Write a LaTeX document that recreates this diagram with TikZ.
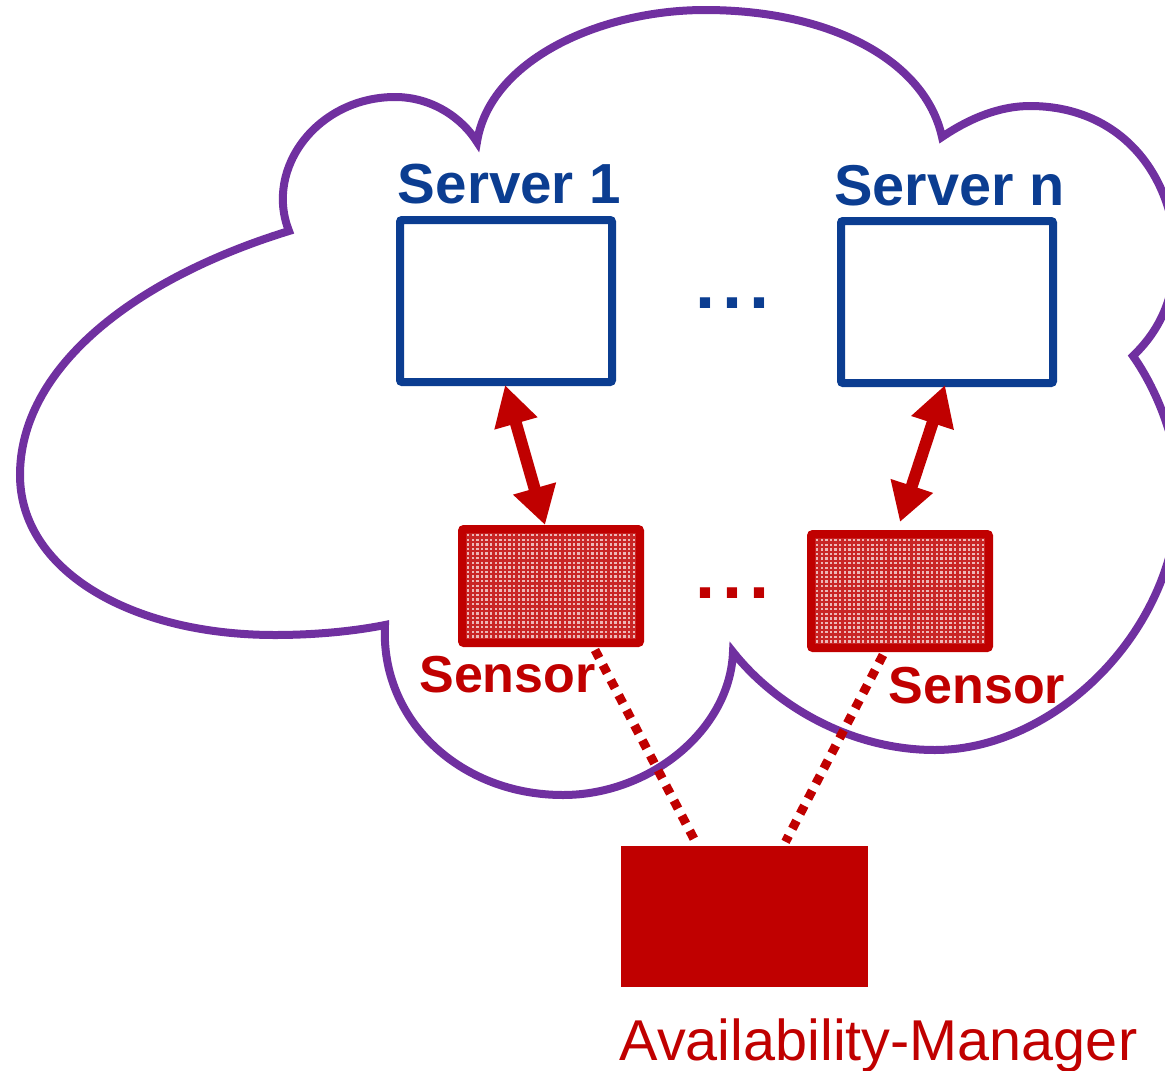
\documentclass[tikz,border=0pt]{standalone}
\usepackage{fontspec}
\setmainfont{Liberation Sans}
\usetikzlibrary{arrows.meta}
\definecolor{cloudc}{HTML}{7030A0}
\definecolor{bluec}{HTML}{0B3D91}
\definecolor{redc}{HTML}{C00000}
\tikzset{
 serverbox/.style={draw=bluec,line width=8pt,rounded corners=2pt,minimum width=212pt,minimum height=162pt,inner sep=0pt,fill=white},
 sensorbox/.style={draw=redc,line width=8pt,rounded corners=2pt,minimum width=178pt,minimum height=114pt,inner sep=0pt},
 managerbox/.style={fill=redc,minimum width=247pt,minimum height=141pt,inner sep=0pt},
 linkarrow/.style={draw=redc,line width=12pt,{Triangle[length=40pt,width=42pt]}-{Triangle[length=38pt,width=42pt]}},
 dotlink/.style={draw=redc,line width=9pt,dash pattern=on 9pt off 8pt},
 servertext/.style={text=bluec,font=\fontsize{56.5}{60}\selectfont\bfseries,inner sep=0pt},
 servertextn/.style={text=bluec,font=\fontsize{57.6}{60}\selectfont\bfseries,inner sep=0pt},
 sensortext/.style={text=redc,font=\fontsize{52}{56}\selectfont\bfseries,inner sep=0pt},
 dotstext/.style={font=\fontsize{72}{72}\selectfont\bfseries,inner sep=0pt},
}
\newcommand{\dotsrow}{.\kern7pt.\kern7pt.}
\newcommand{\hatchfill}[2]{%
 \fill[redc!85!white] (#1,#2) rectangle ++(170,106);
 \foreach \i in {0,...,36}{\foreach \j in {0,...,22}{
  \fill[white!72!redc] ({#1+1+\i*4.6},{#2+1+\j*4.6}) rectangle ++(2.4,2.4);
 }}}
\begin{document}
\begin{tikzpicture}[x=1pt,y=-1pt]
\useasboundingbox (0,0) rectangle (1165,1071);
\begin{scope}
\clip (0,0) rectangle (1165,1071);
\draw[cloudc,line width=8pt,line join=miter]
 (289,231) .. controls (264,168) and (318,97) .. (395,97)
 .. controls (432,97) and (462,118) .. (477,142)
 .. controls (490,60) and (600,10) .. (705,10)
 .. controls (830,10) and (925,60) .. (942,137)
 .. controls (970,118) and (1000,106) .. (1030,106)
 .. controls (1110,106) and (1165,160) .. (1175,240)
 .. controls (1178,295) and (1160,330) .. (1133,356)
 .. controls (1150,380) and (1170,420) .. (1178,470)
 .. controls (1190,620) and (1060,750) .. (935,750)
 .. controls (850,750) and (775,705) .. (733,652)
 .. controls (730,730) and (650,795) .. (563,795)
 .. controls (460,795) and (380,720) .. (385,625)
 .. controls (350,632) and (310,635) .. (275,635)
 .. controls (130,635) and (20,570) .. (20,475)
 .. controls (20,370) and (130,280) .. (289,231) -- cycle;
\end{scope}
\node[serverbox] (s1) at (506,301) {};
\node[serverbox] (sn) at (947,302) {};
\hatchfill{466}{533}
\hatchfill{815}{538}
\node[sensorbox] (e1) at (551,586) {};
\node[sensorbox] (e2) at (900,591) {};
\node[managerbox] (am) at (744.5,916.5) {};
\node[servertext,anchor=base] (t1) at (509.5,203) {Server 1};
\node[servertextn,anchor=base] (tn) at (949.5,205) {Server n};
\node[sensortext,anchor=base] (l1) at (507.5,692) {Sensor};
\node[sensortext,anchor=base] (l2) at (977,703) {Sensor};
\node[anchor=base,text=redc,font=\fontsize{57.6}{62}\selectfont,inner sep=0pt] (lm) at (878.5,1060) {Availability-Manager};
\node[dotstext,text=bluec,anchor=base] (d1) at (732,308) {\dotsrow};
\node[dotstext,text=redc,anchor=base] (d2) at (732,598) {\dotsrow};
\draw[linkarrow] ([xshift=-1pt,yshift=1pt]s1.south) -- ([xshift=-6pt]e1.north);
\draw[linkarrow] ([xshift=-2pt,yshift=2pt]sn.south) -- ([yshift=8pt]e2.north);
\draw[dotlink] ([xshift=44pt,yshift=-3pt]e1.south) -- ([xshift=-49pt,yshift=4pt]am.north);
\draw[dotlink] ([xshift=-17pt,yshift=-3pt]e2.south) -- ([xshift=41pt,yshift=4pt]am.north);
\end{tikzpicture}
\end{document}
